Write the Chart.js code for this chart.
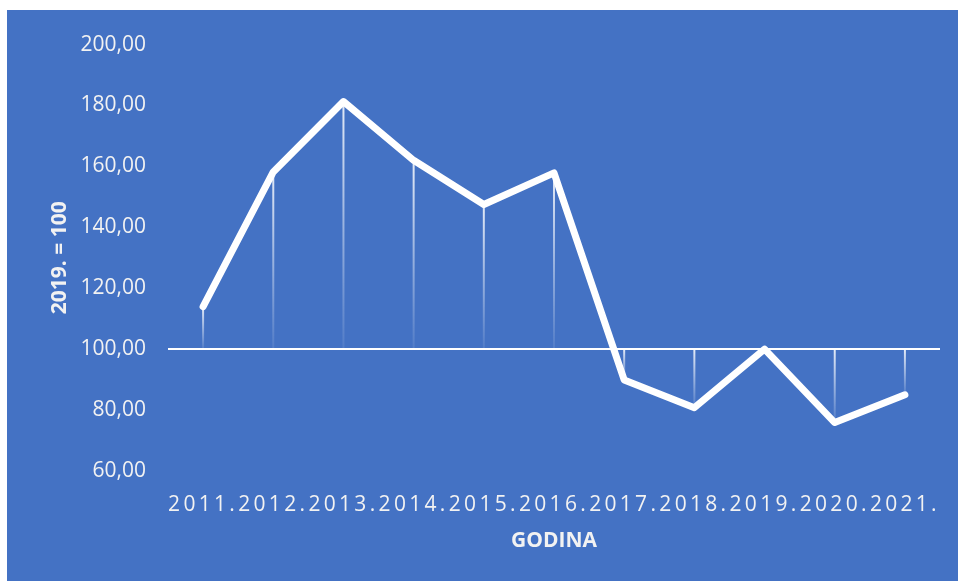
<!DOCTYPE html>
<html>
<head>
<meta charset="utf-8">
<script src="https://cdn.jsdelivr.net/npm/chart.js@4"></script>
<style>
    html, body { margin: 0; padding: 0; background: #ffffff; }
    #wrap {
        position: absolute;
        left: 7px; top: 10px;
        width: 951px; height: 571px;
        background: #4472C4;
    }
</style>
</head>
<body>
<div id="wrap"><canvas id="chart" width="951" height="571"></canvas></div>
<script>
// Index values, 2019. = 100
const years = ['2011.', '2012.', '2013.', '2014.', '2015.', '2016.', '2017.', '2018.', '2019.', '2020.', '2021.'];
const indexValues = [114.0, 158.2, 181.3, 162.0, 147.5, 157.9, 89.9, 80.8, 100.0, 75.9, 85.0];
const baseValue = 100;
const yMin = 60;
const yMax = 200;
const yStep = 20;

const textColor = '#F2F2F2';

// vertical lines from each point to the 100 baseline, fading downward
const dropLines = {
    id: 'dropLines',
    beforeDatasetsDraw(chart) {
        const ctx = chart.ctx;
        const x = chart.scales.x;
        const y = chart.scales.y;
        const yBase = y.getPixelForValue(baseValue);
        ctx.save();
        ctx.lineWidth = 2;
        indexValues.forEach((v, i) => {
            if (v === baseValue) return;
            const px = x.getPixelForValue(i);
            const py = y.getPixelForValue(v);
            const top = Math.min(py, yBase);
            const bottom = Math.max(py, yBase);
            const grad = ctx.createLinearGradient(0, top, 0, bottom);
            grad.addColorStop(0, 'rgba(255,255,255,0.85)');
            grad.addColorStop(1, 'rgba(255,255,255,0.08)');
            ctx.strokeStyle = grad;
            ctx.beginPath();
            ctx.moveTo(px, top);
            ctx.lineTo(px, bottom);
            ctx.stroke();
        });
        ctx.restore();
    }
};

// wider spacing between the characters of the tick labels
function spaceLabels(scale, spacing) {
    if (scale._spaced) return;
    const orig = scale.drawLabels;
    scale.drawLabels = function(area) {
        this.ctx.save();
        this.ctx.letterSpacing = spacing;
        orig.call(this, area);
        this.ctx.restore();
    };
    scale._spaced = true;
}

const letterSpacing = {
    id: 'letterSpacing',
    afterUpdate(chart) {
        spaceLabels(chart.scales.x, '3.3px');
    }
};

const ctx = document.getElementById('chart').getContext('2d');
new Chart(ctx, {
    type: 'line',
    data: {
        labels: years,
        datasets: [{
            data: indexValues,
            borderColor: '#ffffff',
            borderWidth: 7,
            borderCapStyle: 'round',
            borderJoinStyle: 'round',
            pointRadius: 0,
            pointHoverRadius: 0,
            tension: 0,
            fill: false
        }]
    },
    options: {
        responsive: false,
        animation: false,
        events: [],
        layout: { padding: { top: 32, right: 18, bottom: 0, left: 0 } },
        plugins: {
            legend: { display: false },
            tooltip: { enabled: false }
        },
        scales: {
            x: {
                offset: true,
                grid: { display: false, drawTicks: false },
                border: { display: false },
                ticks: {
                    color: textColor,
                    font: { family: 'Open Sans', size: 21 },
                    autoSkip: false,
                    maxRotation: 0,
                    padding: 21
                },
                title: {
                    display: true,
                    text: 'GODINA',
                    color: textColor,
                    font: { family: 'Open Sans', size: 21, weight: 'bold' },
                    padding: { top: 27, bottom: 27 }
                },
                afterFit(scale) { scale.height = 110; }
            },
            y: {
                min: yMin,
                max: yMax,
                grid: {
                    drawTicks: false,
                    lineWidth: 2,
                    color: c => (c.tick && c.tick.value === baseValue) ? '#ffffff' : 'rgba(0,0,0,0)'
                },
                border: { display: false },
                ticks: {
                    stepSize: yStep,
                    color: textColor,
                    font: { family: 'Open Sans', size: 21 },
                    padding: 22,
                    callback: v => v.toFixed(2).replace('.', ',')
                },
                title: {
                    display: true,
                    text: '2019. = 100',
                    color: textColor,
                    font: { family: 'Open Sans', size: 21, weight: 'bold' },
                    padding: { top: 40, bottom: 40 }
                },
                afterFit(scale) { scale.width = 161; }
            }
        }
    },
    plugins: [dropLines, letterSpacing]
});
</script>
</body>
</html>
